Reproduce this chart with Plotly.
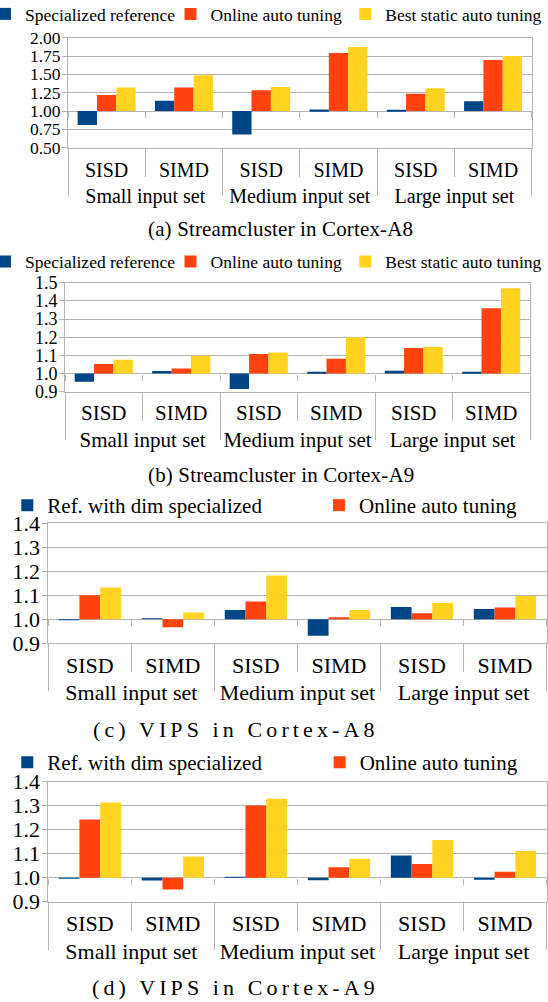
import plotly.graph_objects as go

# ---------------- data ----------------
groups = ["Small input set", "Medium input set", "Large input set"]
modes = ["SISD", "SIMD"]

series_ab = ["Specialized reference", "Online auto tuning", "Best static auto tuning"]
series_cd = ["Ref. with dim specialized", "Online auto tuning", "Best static auto tuning"]
colors = ["#004586", "#ff420e", "#ffd320"]

captions = [
    "(a) Streamcluster in Cortex-A8",
    "(b) Streamcluster in Cortex-A9",
    "(c) VIPS in Cortex-A8",
    "(d) VIPS in Cortex-A9",
]

# (a) Streamcluster in Cortex-A8
a_ref = [0.81, 1.14, 0.68, 1.02, 1.01, 1.135]
a_online = [1.22, 1.32, 1.285, 1.79, 1.235, 1.695]
a_static = [1.32, 1.487, 1.327, 1.873, 1.309, 1.75]

# (b) Streamcluster in Cortex-A9
b_ref = [0.955, 1.014, 0.915, 1.010, 1.015, 1.005]
b_online = [1.052, 1.028, 1.108, 1.082, 1.141, 1.360]
b_static = [1.076, 1.098, 1.116, 1.200, 1.146, 1.470]

# (c) VIPS in Cortex-A8
c_ref = [0.998, 1.001, 1.039, 0.931, 1.051, 1.043]
c_online = [1.100, 0.967, 1.074, 1.007, 1.025, 1.049]
c_static = [1.132, 1.028, 1.183, 1.039, 1.068, 1.097]

# (d) VIPS in Cortex-A9
d_ref = [0.998, 0.988, 1.004, 0.989, 1.093, 0.992]
d_online = [1.242, 0.951, 1.301, 1.044, 1.057, 1.025]
d_static = [1.313, 1.088, 1.329, 1.079, 1.157, 1.111]

# ---------------- layout helpers ----------------
W, H = 548, 1002
GRID = "#b3b3b3"
FONT = "Liberation Serif"
TXT = "#000000"


def px(x):
    return x / W


def py(y):
    return 1 - y / H


cat_keys = [g + " | " + m for g in groups for m in modes]
cat_text = [m for g in groups for m in modes]
n_cat = len(cat_keys)
per_group = len(modes)
boundaries = [i - 0.5 for i in range(n_cat + 1)]
group_bounds = [k * per_group - 0.5 for k in range(len(groups) + 1)]
group_centers = [k * per_group + (per_group - 1) / 2 for k in range(len(groups))]

panels = [
    dict(values=[a_ref, a_online, a_static], names=series_ab, show=[True, True, True],
         yrange=[0.5, 2.0], dtick=0.25, fmt=".2f",
         geom=(68, 531.7, 37.7, 147.7), tickfont=17.5, catfont=20, cat_so=4, grp_so=34,
         leg_x=[26, 211.5, 386.3], leg_y=14, leg_font=17.5,
         cap=(280.5, 229.2), cap_font=21, cap_ls=0.15),
    dict(values=[b_ref, b_online, b_static], names=series_ab, show=[True, True, True],
         yrange=[0.9, 1.5], dtick=0.1, fmt=".1f",
         geom=(65, 530, 282.7, 391.7), tickfont=18, catfont=21, cat_so=2, grp_so=33,
         leg_x=[26, 211.5, 386.3], leg_y=261.7, leg_font=17.5,
         cap=(280.5, 475.4), cap_font=21, cap_ls=0.15),
    dict(values=[c_ref, c_online, c_static], names=series_cd, show=[True, True, False],
         yrange=[0.9, 1.4], dtick=0.1, fmt=".1f",
         geom=(48.3, 546.5, 523.3, 643.3), tickfont=22, catfont=22, cat_so=2, grp_so=34,
         leg_x=[48.3, 360], leg_y=505.5, leg_font=21,
         cap=(236, 729.2), cap_font=22, cap_ls=4.1),
    dict(values=[d_ref, d_online, d_static], names=series_cd, show=[True, True, False],
         yrange=[0.9, 1.4], dtick=0.1, fmt=".1f",
         geom=(48.3, 546.5, 781.7, 901.7), tickfont=22, catfont=22, cat_so=2, grp_so=34,
         leg_x=[48.3, 360.7], leg_y=762.5, leg_font=21,
         cap=(236, 987.5), cap_font=22, cap_ls=4.1),
]

fig = go.Figure()
layout = {}
annotations = []
legend_count = 0
n_pan = len(panels)

for i, p in enumerate(panels, start=1):
    xid = "x" if i == 1 else f"x{i}"
    yid = "y" if i == 1 else f"y{i}"
    xkey = "xaxis" if i == 1 else f"xaxis{i}"
    ykey = "yaxis" if i == 1 else f"yaxis{i}"
    xl, xr, yt, yb = p["geom"]
    ydom = [py(yb), py(yt)]
    ymin, ymax = p["yrange"]

    leg_idx = 0
    for s, vals in enumerate(p["values"]):
        lname = None
        if p["show"][s]:
            legend_count += 1
            lname = "legend" if legend_count == 1 else f"legend{legend_count}"
            lx = p["leg_x"][leg_idx]
            leg_idx += 1
            layout[lname] = dict(
                x=px(lx - 41), y=py(p["leg_y"]), xanchor="left", yanchor="middle",
                bgcolor="rgba(0,0,0,0)", borderwidth=0,
                font=dict(family=FONT, size=p["leg_font"], color=TXT),
            )
        fig.add_trace(go.Bar(
            x=cat_keys, y=[v - 1 for v in vals], base=1,
            name=p["names"][s], marker=dict(color=colors[s], line=dict(width=0)),
            xaxis=xid, yaxis=yid,
            showlegend=p["show"][s], legend=lname if lname else "legend",
            customdata=vals, hovertemplate="%{customdata:.3f}<extra>" + p["names"][s] + "</extra>",
        ))

    # main category axis (SISD / SIMD labels, short dividers)
    layout[xkey] = dict(
        domain=[px(xl), px(xr)], anchor=yid, type="category",
        categoryorder="array", categoryarray=cat_keys, range=[-0.5, n_cat - 0.5],
        tickmode="array", tickvals=cat_keys, ticktext=cat_text,
        tickson="boundaries", ticks="outside", ticklen=28, tickcolor=GRID, tickwidth=1,
        ticklabelstandoff=p["cat_so"],
        showline=True, linecolor=GRID, linewidth=1, mirror=True,
        showgrid=False, zeroline=False,
        tickfont=dict(family=FONT, size=p["catfont"], color=TXT),
    )
    layout[ykey] = dict(
        domain=ydom, anchor=xid, range=p["yrange"],
        tickmode="linear", tick0=ymin, dtick=p["dtick"], tickformat=p["fmt"],
        ticks="outside", ticklen=5, tickcolor=GRID, tickwidth=1, ticklabelstandoff=-2,
        showgrid=True, gridcolor=GRID, gridwidth=1,
        showline=True, linecolor=GRID, linewidth=1, mirror=True, zeroline=False,
        tickfont=dict(family=FONT, size=p["tickfont"], color=TXT),
    )

    # group axis (input set labels, long dividers)
    gnum = i + n_pan
    gkey = f"xaxis{gnum}"
    layout[gkey] = dict(
        overlaying=xid, anchor=yid, side="bottom", type="linear",
        range=[-0.5, n_cat - 0.5], tickmode="array", tickvals=group_centers, ticktext=groups,
        ticks="", showline=False, showgrid=False, zeroline=False,
        ticklabelstandoff=p["grp_so"],
        minor=dict(tickmode="array", tickvals=group_bounds, ticks="outside", ticklen=47,
                   tickcolor=GRID, tickwidth=1, showgrid=False),
        tickfont=dict(family=FONT, size=p["catfont"], color=TXT),
    )
    fig.add_trace(go.Scatter(x=[], y=[], xaxis=f"x{gnum}", yaxis=yid,
                             showlegend=False, hoverinfo="skip"))

    # category axis crossing the value axis at 1.0 (small tick marks)
    cnum = i + 2 * n_pan
    ckey = f"xaxis{cnum}"
    cross_pos = ydom[0] + (1.0 - ymin) / (ymax - ymin) * (ydom[1] - ydom[0])
    layout[ckey] = dict(
        overlaying=xid, anchor="free", position=cross_pos, side="bottom", type="linear",
        range=[-0.5, n_cat - 0.5], showticklabels=False, ticks="",
        showline=False, showgrid=False, zeroline=False,
        minor=dict(tickmode="array", tickvals=boundaries, ticks="outside", ticklen=6,
                   tickcolor=GRID, tickwidth=1, showgrid=False),
    )
    fig.add_trace(go.Scatter(x=[], y=[], xaxis=f"x{cnum}", yaxis=yid,
                             showlegend=False, hoverinfo="skip"))

    cx, cy = p["cap"]
    annotations.append(dict(
        text=f'<span style="letter-spacing:{p["cap_ls"]}px">{captions[i - 1]}</span>',
        x=px(cx), y=py(cy), xref="paper", yref="paper",
        xanchor="center", yanchor="middle", showarrow=False,
        font=dict(family=FONT, size=p["cap_font"], color=TXT),
    ))

fig.update_layout(
    width=W, height=H,
    margin=dict(l=0, r=0, t=0, b=0, autoexpand=False),
    paper_bgcolor="white", plot_bgcolor="white",
    barmode="group", bargap=0.25, bargroupgap=0,
    font=dict(family=FONT, color=TXT),
    annotations=annotations,
    **layout,
)

fig.write_html(
    "out.html",
    config={"displayModeBar": False},
    post_script="document.body.style.margin='0px';document.body.style.overflow='hidden';",
)
